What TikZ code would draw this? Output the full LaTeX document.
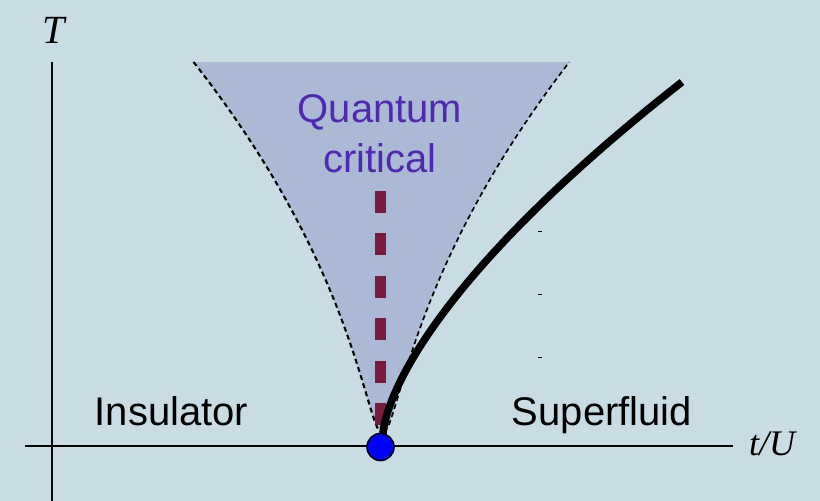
\documentclass[tikz,border=0pt]{standalone}
\usepackage{fontspec}
\setmainfont{Liberation Sans}
\newfontfamily\timesfont{Liberation Serif}
\definecolor{bgc}{RGB}{202,220,227}
\definecolor{qcfill}{RGB}{171,185,212}
\definecolor{qctext}{RGB}{78,42,178}
\definecolor{critline}{RGB}{122,26,60}
\definecolor{qcpblue}{RGB}{0,0,255}
\tikzset{
  axisline/.style={line width=1.3pt, black},
  boundary/.style={line width=2.1pt, black, dash pattern=on 5pt off 3.5pt},
  phaselabel/.style={font=\fontsize{40}{50}\selectfont, text=black, inner sep=0pt},
  axislabel/.style={font=\timesfont\itshape\fontsize{40}{48}\selectfont, inner sep=0pt},
}
\begin{document}
\begin{tikzpicture}[x=1pt,y=-1pt]
\fill[bgc] (0,0) rectangle (820,501);
\useasboundingbox (0,0) rectangle (820,501);
% quantum critical fan
\fill[qcfill] plot[domain=370:0, samples=90, variable=\h] ({381-0.1125*\h-0.000858*\h*\h-1.5*sqrt(\h)},{432-\h})
  -- plot[domain=0:370, samples=90, variable=\h] ({384+0.1125*\h+0.000840*\h*\h+1.5*sqrt(\h)},{432-\h}) -- cycle;
\draw[boundary] plot[domain=370:0, samples=90, variable=\h] ({381-0.1125*\h-0.000858*\h*\h-1.5*sqrt(\h)},{432-\h});
\draw[boundary, line width=1.7pt] plot[domain=0:370, samples=90, variable=\h] ({384+0.1125*\h+0.000840*\h*\h+1.5*sqrt(\h)},{432-\h});
% critical line
\coordinate (ctop) at (380.5,191);
\coordinate (cbot) at (380.5,425);
\draw[critline, line width=11pt, dash pattern=on 22pt off 20.4pt] (ctop) -- (cbot);
% phase boundary
\draw[line width=7.5pt, black, line cap=butt] plot[domain=0:352, samples=90, variable=\h] ({383+0.04528*\h^1.5},{434-\h});
% small ticks
\foreach \yy in {231,294,357} \draw[line width=1pt] (538,\yy) -- (542,\yy);
% axes
\coordinate (vtop) at (52,62);
\coordinate (vbot) at (52,501);
\coordinate (hl) at (25,446);
\coordinate (hr) at (733,446);
\draw[axisline] (vtop) -- (vbot);
\draw[axisline] (hl) -- (hr);
% QCP
\node[circle, fill=qcpblue, draw=black, line width=1.6pt, minimum size=27pt, inner sep=0pt] (qcp) at (380.5,447) {};
% labels
\node[axislabel, anchor=base] (tlab) at (53.5,43) {T};
\node[axislabel, font=\timesfont\itshape\fontsize{36}{44}\selectfont, anchor=base west] (tulab) at (749,455) {t/U};
\node[phaselabel, anchor=base] (ins) at (171.5,425) {Insulator};
\node[phaselabel, anchor=base] (sf) at (602,425) {Superfluid};
\node[phaselabel, text=qctext, anchor=base] (qc1) at (380,122) {Quantum};
\node[phaselabel, text=qctext, anchor=base] (qc2) at (380,172) {critical};
\end{tikzpicture}
\end{document}
